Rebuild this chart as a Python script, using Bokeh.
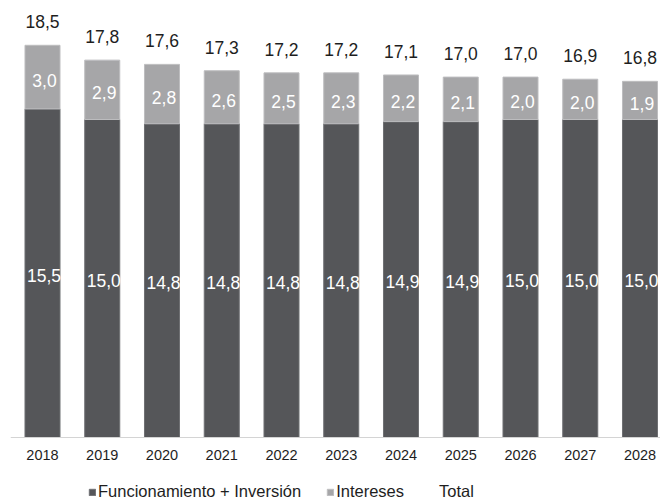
from bokeh.plotting import figure
from bokeh.models import ColumnDataSource, FixedTicker, Legend, LegendItem
from bokeh.core.properties import value
from bokeh.embed import file_html
from bokeh.resources import INLINE

years = ["2018", "2019", "2020", "2021", "2022", "2023", "2024", "2025", "2026", "2027", "2028"]
func = [15.5, 15.0, 14.8, 14.8, 14.8, 14.8, 14.9, 14.9, 15.0, 15.0, 15.0]
inter = [3.0, 2.9, 2.8, 2.6, 2.5, 2.3, 2.2, 2.1, 2.0, 2.0, 1.9]
total = [18.5, 17.8, 17.6, 17.3, 17.2, 17.2, 17.1, 17.0, 17.0, 16.9, 16.8]

FONT = "Liberation Sans"
DARK = "#555659"
LIGHT = "#a6a6a8"
TXT = "#1e1e1e"
BW = 0.586

def fmt(v):
    return f"{v:.1f}".replace(".", ",")

xs = list(range(len(years)))
src = ColumnDataSource(dict(
    x=xs,
    xr=[x + BW / 2 for x in xs],
    func=func,
    inter=inter,
    total=total,
    midf=[f / 2 for f in func],
    midi=[(f + t) / 2 for f, t in zip(func, total)],
    lf=[fmt(v) for v in func],
    li=[fmt(v) for v in inter],
    lt=[fmt(v) for v in total],
))

p = figure(width=660, height=504, output_backend="svg", toolbar_location=None,
           x_range=(-0.5356, 10.343), y_range=(-3.160, 20.613),
           min_border_left=10, min_border_right=0, min_border_top=0, min_border_bottom=0)
p.outline_line_color = None
p.xgrid.visible = False
p.ygrid.visible = False
p.yaxis.visible = False
p.background_fill_color = "white"
p.border_fill_color = "white"

r1 = p.vbar(x="x", bottom=0, top="func", width=BW, source=src,
            fill_color=DARK, line_color="#6f7073", line_width=1)
r2 = p.vbar(x="x", bottom="func", top="total", width=BW, source=src,
            fill_color=LIGHT, line_color="#bdbdbf", line_width=1)
r3 = p.line(x="x", y="total", source=src, line_alpha=0)

p.text(x="xr", y="midf", text="lf", source=src, text_align="right", text_baseline="middle",
       x_offset=1, y_offset=2, text_color="white", text_font=value(FONT), text_font_size="17.5px")
p.text(x="x", y="midi", text="li", source=src, text_align="center", text_baseline="middle",
       x_offset=2, y_offset=3, text_color="white", text_font=value(FONT), text_font_size="17.5px")
p.text(x="x", y="total", text="lt", source=src, text_align="center", text_baseline="bottom",
       x_offset=0, y_offset=-17, text_color=TXT, text_font=value(FONT), text_font_size="17.5px")

ax = p.xaxis[0]
ax.fixed_location = 0
ax.ticker = FixedTicker(ticks=xs)
ax.major_label_overrides = {i: y for i, y in enumerate(years)}
ax.major_tick_line_color = None
ax.minor_tick_line_color = None
ax.major_tick_out = 0
ax.major_tick_in = 0
ax.axis_line_color = "#d4d4d4"
ax.axis_line_width = 1
ax.major_label_standoff = 12
ax.major_label_text_font = FONT
ax.major_label_text_font_size = "14.5px"
ax.major_label_text_color = TXT

legend = Legend(items=[
    LegendItem(label="Funcionamiento + Inversión", renderers=[r1]),
    LegendItem(label="Intereses", renderers=[r2]),
    LegendItem(label="Total", renderers=[r3]),
], orientation="horizontal", location=(78, 3))
legend.glyph_width = 8
legend.glyph_height = 8
legend.label_standoff = 2
legend.spacing = 25
legend.padding = 0
legend.margin = 0
legend.border_line_color = None
legend.background_fill_alpha = 0
legend.label_text_font = FONT
legend.label_text_font_size = "16.5px"
legend.label_text_color = TXT
legend.label_height = 8
p.add_layout(legend, "center")

open("out.html", "w").write(file_html(p, INLINE))
